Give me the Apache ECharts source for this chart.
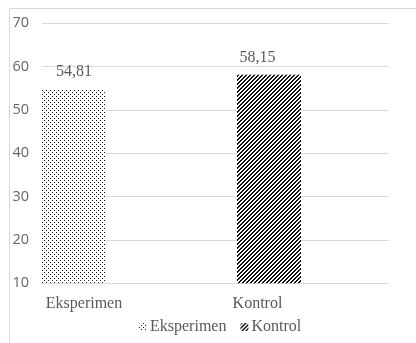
<!DOCTYPE html>
<html>
<head>
<meta charset="utf-8">
<script src="https://cdn.jsdelivr.net/npm/echarts@6/dist/echarts.min.js"></script>
<style>
  html, body { margin: 0; padding: 0; background: #fff; }
  #chart { width: 416px; height: 343px; }
</style>
</head>
<body>
<div id="chart"></div>
<script>
// Group names and mean scores
const categories = ['Eksperimen', 'Kontrol'];
const seriesNames = ['Eksperimen', 'Kontrol'];
const eksperimenValues = [54.81, null];
const kontrolValues = [null, 58.15];
const yMin = 10, yMax = 70, yStep = 10;

// Fill patterns: a staggered dot grid and a wide diagonal hatch
function dotPattern() {
  const c = document.createElement('canvas');
  c.width = 4; c.height = 4;
  const g = c.getContext('2d');
  g.fillStyle = '#ffffff'; g.fillRect(0, 0, 4, 4);
  g.fillStyle = '#111111';
  g.fillRect(0, 0, 1, 1);
  g.fillRect(2, 2, 1, 1);
  return c;
}
function hatchPattern() {
  const c = document.createElement('canvas');
  c.width = 4; c.height = 4;
  const g = c.getContext('2d');
  g.fillStyle = '#ffffff'; g.fillRect(0, 0, 4, 4);
  g.fillStyle = '#111111';
  for (let x = 0; x < 4; x++) {
    for (let y = 0; y < 4; y++) {
      const k = (x + y) % 4;
      if (k === 0 || k === 1) g.fillRect(x, y, 1, 1);
    }
  }
  return c;
}

const serif = '"Liberation Serif", "Times New Roman", serif';
const textGray = '#595959';
const gridTop = 23.3, gridHeight = 260;

const chart = echarts.init(document.getElementById('chart'), null, { renderer: 'canvas' });

function labelFmt(p) {
  return p.value == null ? '' : p.value.toFixed(2).replace('.', ',');
}

chart.setOption({
  animation: false,
  backgroundColor: '#ffffff',
  graphic: [{
    type: 'rect',
    shape: { x: 9.5, y: 8.5, width: 500, height: 400 },
    style: { fill: 'none', stroke: '#d9d9d9', lineWidth: 1 },
    silent: true, z: -10
  }],
  legend: {
    data: seriesNames,
    left: 134, top: 314,
    itemWidth: 8, itemHeight: 8, itemGap: 14,
    textStyle: { fontFamily: serif, fontSize: 16, color: textGray, padding: [0, 0, 0, -2] }
  },
  grid: [
    { left: 42, width: 347, top: gridTop, height: gridHeight, containLabel: false },
    { left: 42, width: 259, top: gridTop, height: gridHeight, containLabel: false }
  ],
  xAxis: [
    {
      gridIndex: 0, type: 'category', data: categories,
      axisLine: { show: false }, axisTick: { show: false },
      axisLabel: {
        margin: 12, fontFamily: serif, fontSize: 16, color: textGray,
        padding: [0, 89.5, 0, 0]
      }
    },
    {
      gridIndex: 1, type: 'category', data: categories, show: false
    }
  ],
  yAxis: [
    {
      gridIndex: 0, type: 'value', min: yMin, max: yMax, interval: yStep,
      axisLine: { show: false }, axisTick: { show: false },
      axisLabel: { margin: 13, fontFamily: '"Open Sans", "Liberation Sans", sans-serif', fontSize: 14.5, color: '#666666' },
      splitLine: { lineStyle: { color: '#d9d9d9', width: 1 } }
    },
    {
      gridIndex: 1, type: 'value', min: yMin, max: yMax, interval: yStep, show: false,
      splitLine: { show: false }
    }
  ],
  series: [
    {
      name: seriesNames[0], type: 'bar', xAxisIndex: 1, yAxisIndex: 1,
      data: eksperimenValues,
      barWidth: 65, barGap: '2.3%',
      itemStyle: { color: { image: dotPattern(), repeat: 'repeat' } },
      label: {
        show: true, position: 'top', distance: 9, formatter: labelFmt,
        fontFamily: serif, fontSize: 16, color: textGray
      }
    },
    {
      name: seriesNames[1], type: 'bar', xAxisIndex: 1, yAxisIndex: 1,
      data: kontrolValues,
      barWidth: 65, barGap: '2.3%',
      itemStyle: { color: { image: hatchPattern(), repeat: 'repeat' } },
      label: {
        show: true, position: 'top', distance: 9, offset: [-11.5, 0], formatter: labelFmt,
        fontFamily: serif, fontSize: 16, color: textGray
      }
    }
  ]
});
</script>
</body>
</html>
